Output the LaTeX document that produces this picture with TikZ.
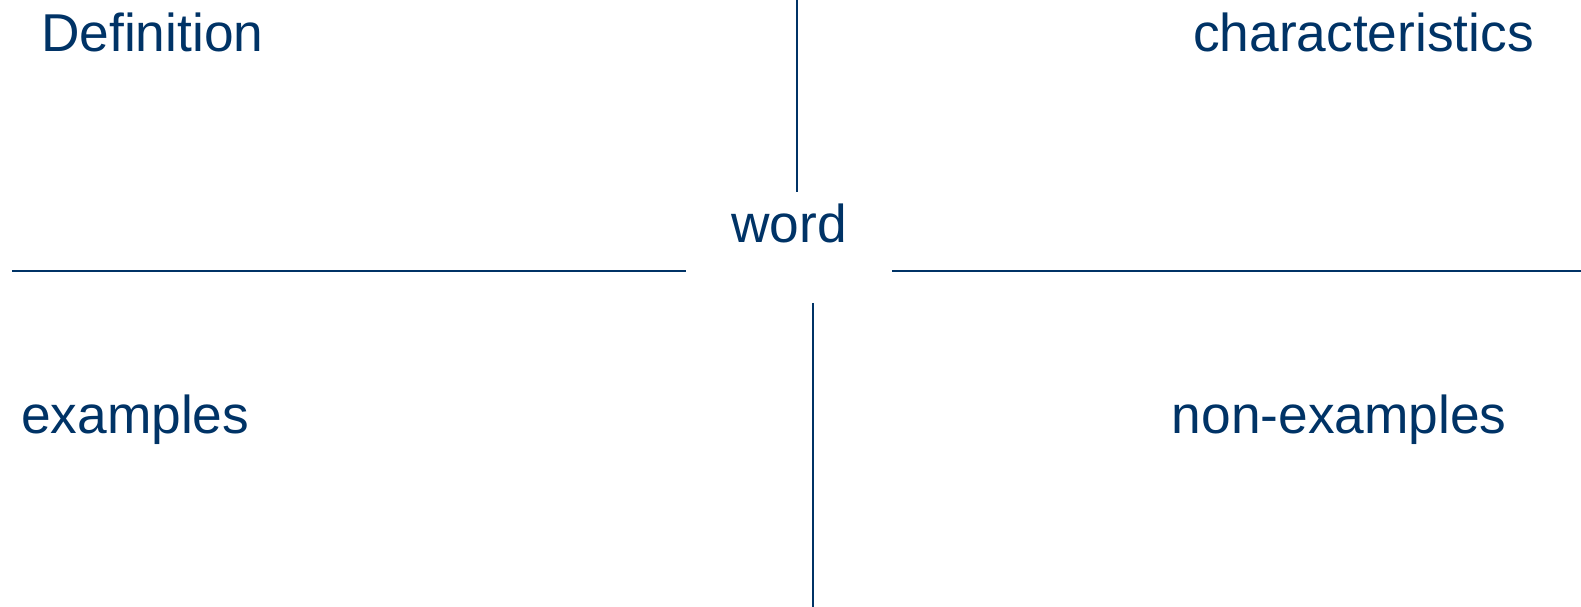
\documentclass[tikz,border=0pt]{standalone}
\usepackage{fontspec}
\setmainfont{Liberation Sans}
\definecolor{navy}{RGB}{0,51,102}
\begin{document}
\begin{tikzpicture}[x=1pt,y=1pt,
  lbl/.style={anchor=base west,inner sep=0pt,text=navy,font=\fontsize{53.3}{60}\selectfont},
  rule/.style={draw=navy,line width=1.8pt}]
\useasboundingbox (0,0) rectangle (1581,607);
\node[lbl] (def) at (41,555.3) {Definition};
\node[lbl] (char) at (1193,555.3) {characteristics};
\node[lbl] (word) at (731,364.3) {word};
\node[lbl] (ex) at (21,173.7) {examples};
\node[lbl] (nonex) at (1171.6,173.7) {non-examples};
\coordinate (tv1) at (797,607);
\coordinate (tv2) at (797,415);
\coordinate (lh1) at (12,336);
\coordinate (lh2) at (686,336);
\coordinate (rh1) at (892,336);
\coordinate (rh2) at (1581,336);
\coordinate (bv1) at (813,304);
\coordinate (bv2) at (813,0);
\draw[rule] (tv1) -- (tv2);
\draw[rule] (lh1) -- (lh2);
\draw[rule] (rh1) -- (rh2);
\draw[rule] (bv1) -- (bv2);
\end{tikzpicture}
\end{document}
